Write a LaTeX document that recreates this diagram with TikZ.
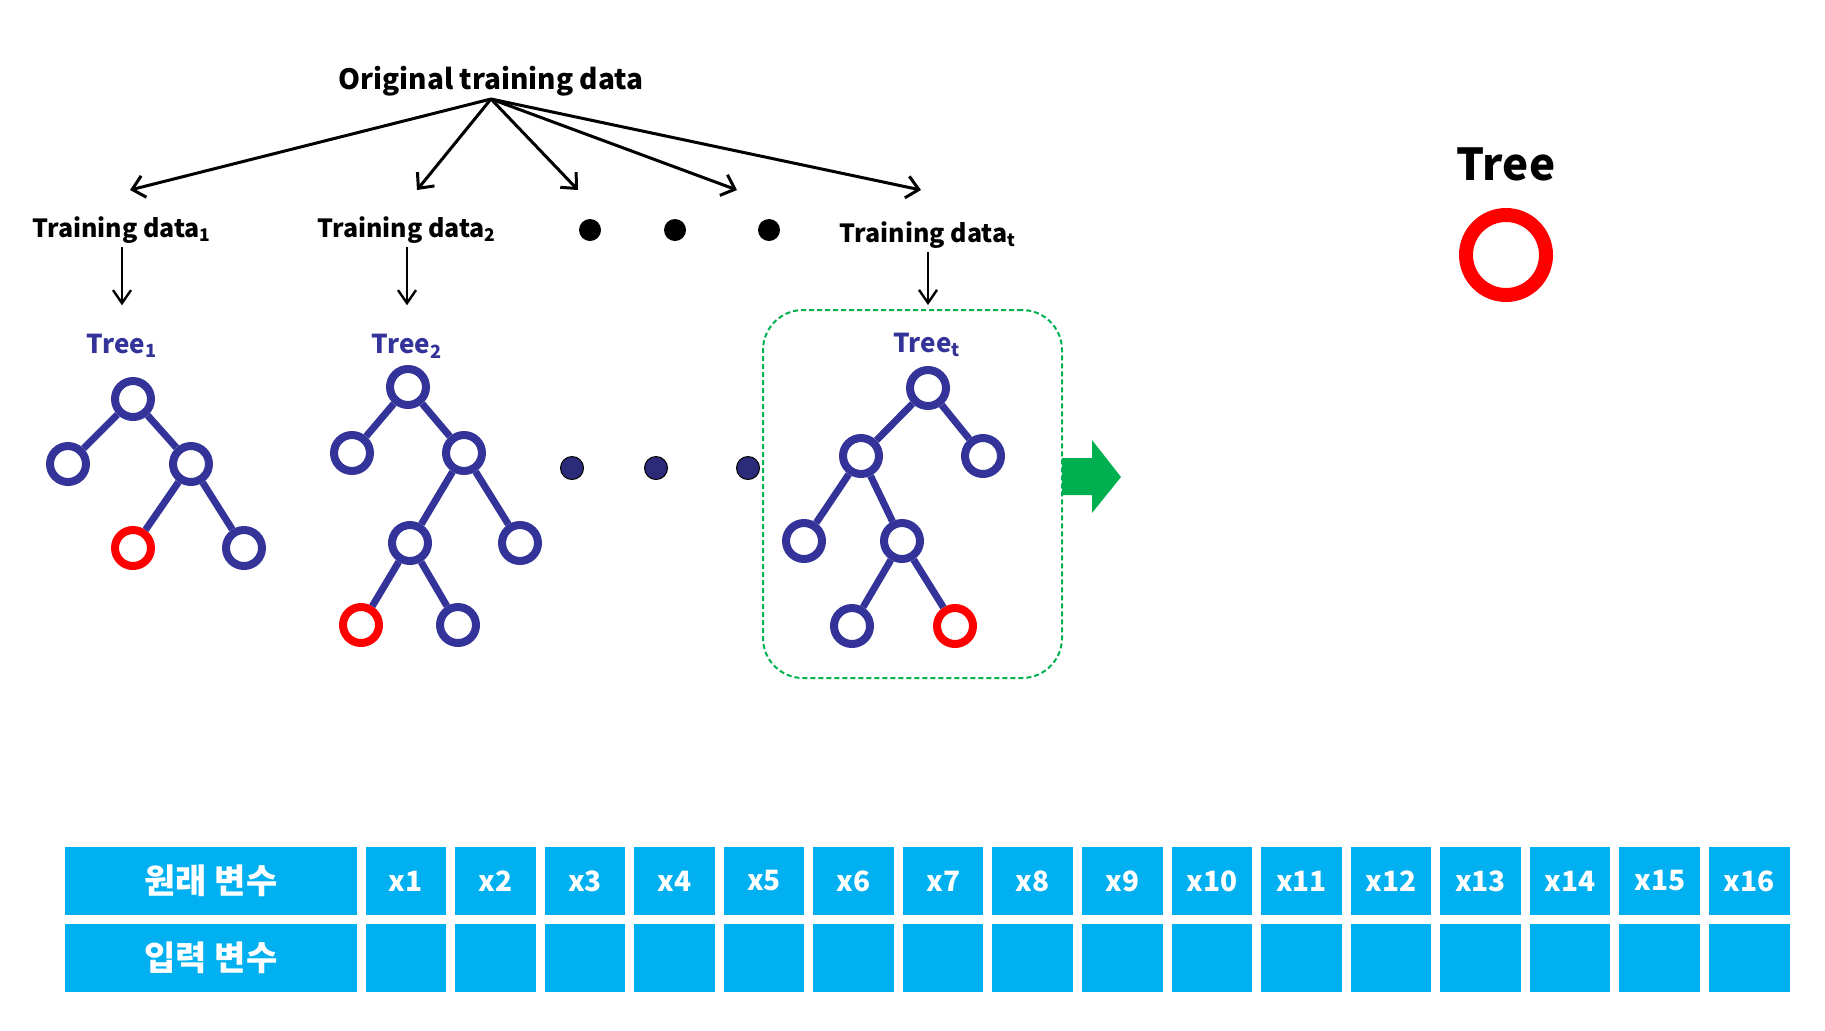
\documentclass[tikz,border=0pt]{standalone}
\usepackage{fontspec}
\setmainfont{Noto Sans CJK KR}
\usepackage{tikz}
\usetikzlibrary{shapes.geometric, arrows, arrows.meta}
\definecolor{navy}{HTML}{333399}
\definecolor{dotnavy}{HTML}{2B2B7A}
\definecolor{leafred}{HTML}{FF0000}
\definecolor{boxgreen}{HTML}{00B050}
\definecolor{varcyan}{HTML}{00B0F0}
\tikzstyle{tnode} = [circle, draw=navy, line width=4pt, minimum size=18pt, inner sep=0pt]
\tikzstyle{rnode} = [tnode, draw=leafred]
\tikzstyle{tedge} = [draw=navy, line width=3.5pt]
\tikzstyle{arrow} = [line width=1.5pt,-{Straight Barb[length=6pt,width=11pt]}]
\tikzstyle{downarrow} = [line width=1.2pt,-{Straight Barb[length=6.5pt,width=9pt]}]
\tikzstyle{blackdot} = [circle, fill=black, minimum size=11pt, inner sep=0pt]
\tikzstyle{navydot} = [circle, fill=dotnavy, draw=black, line width=0.5pt, minimum size=11.5pt, inner sep=0pt]
\tikzstyle{datalabel} = [font=\bfseries\fontsize{12.5}{15}\selectfont, inner sep=2pt, anchor=base]
\tikzstyle{treelabel} = [font=\bfseries\fontsize{13}{16}\selectfont, text=navy, inner sep=2pt, anchor=base]
\tikzstyle{headbox} = [rectangle, fill=varcyan, minimum width=146pt, minimum height=34pt, inner sep=0pt, text=white, font=\bfseries\fontsize{17}{19}\selectfont]
\tikzstyle{varbox} = [rectangle, fill=varcyan, minimum width=40.25pt, minimum height=34pt, inner sep=0pt, text=white, font=\bfseries\fontsize{14}{16}\selectfont]
\begin{document}
\begin{tikzpicture}[x=0.5pt, y=-0.5pt]
\useasboundingbox (0,0) rectangle (1825,1030);

% source and bootstrap samples
\node (orig) [font=\bfseries\fontsize{14}{17}\selectfont, inner sep=1pt, anchor=south] at (491,99) {Original training data};
\coordinate (ta1) at (130,190);
\coordinate (ta2) at (417,190);
\coordinate (ta3) at (578,190);
\coordinate (ta4) at (737,190);
\coordinate (ta5) at (921,190);
\draw [arrow] (orig.south) -- (ta1);
\draw [arrow] (orig.south) -- (ta2);
\draw [arrow] (orig.south) -- (ta3);
\draw [arrow] (orig.south) -- (ta4);
\draw [arrow] (orig.south) -- (ta5);

\node (d1) [datalabel] at (122,237) {Training data\textsubscript{1}};
\node (d2) [datalabel] at (407,237) {Training data\textsubscript{2}};
\node (dt) [datalabel] at (928,242) {Training data\textsubscript{t}};
\node (dot1) [blackdot] at (590,230) {};
\node (dot2) [blackdot] at (675,230) {};
\node (dot3) [blackdot] at (769,230) {};

\node (boxt) [rectangle, rounded corners=20pt, draw=boxgreen, line width=1pt, dash pattern=on 2.5pt off 1.5pt, minimum width=149.5pt, minimum height=184pt] at (912.5,494) {};

\node (t1lab) [treelabel] at (122,353) {Tree\textsubscript{1}};
\node (t2lab) [treelabel] at (407,353) {Tree\textsubscript{2}};
\node (ttlab) [treelabel] at (927,352) {Tree\textsubscript{t}};
\draw [downarrow, shorten >=12pt] (d1.south) -- (t1lab.north);
\draw [downarrow, shorten >=12pt] (d2.south) -- (t2lab.north);
\draw [downarrow, shorten >=2pt] (dt.south) -- (dt.south |- boxt.north);

% tree 1
\node (t1a) [tnode] at (133,399) {};
\node (t1b) [tnode] at (68,464) {};
\node (t1c) [tnode] at (191,464) {};
\node (t1d) [rnode] at (133,548) {};
\node (t1e) [tnode] at (244,548) {};
\draw [tedge] (t1a) -- (t1b);
\draw [tedge] (t1a) -- (t1c);
\draw [tedge] (t1c) -- (t1d);
\draw [tedge] (t1c) -- (t1e);

% tree 2
\node (t2a) [tnode] at (408,387) {};
\node (t2b) [tnode] at (352,453) {};
\node (t2c) [tnode] at (464,453) {};
\node (t2d) [tnode] at (410,543) {};
\node (t2e) [tnode] at (520,543) {};
\node (t2f) [rnode] at (361,625) {};
\node (t2g) [tnode] at (458,625) {};
\draw [tedge] (t2a) -- (t2b);
\draw [tedge] (t2a) -- (t2c);
\draw [tedge] (t2c) -- (t2d);
\draw [tedge] (t2c) -- (t2e);
\draw [tedge] (t2d) -- (t2f);
\draw [tedge] (t2d) -- (t2g);

\node (nd1) [navydot] at (572,468) {};
\node (nd2) [navydot] at (656,468) {};
\node (nd3) [navydot] at (748,468) {};

% tree t
\node (tta) [tnode] at (928,388) {};
\node (ttb) [tnode] at (861,456) {};
\node (ttc) [tnode] at (983,456) {};
\node (ttd) [tnode] at (804,541) {};
\node (tte) [tnode] at (902,541) {};
\node (ttf) [tnode] at (852,626) {};
\node (ttg) [rnode] at (955,626) {};
\draw [tedge] (tta) -- (ttb);
\draw [tedge] (tta) -- (ttc);
\draw [tedge] (ttb) -- (ttd);
\draw [tedge] (ttb) -- (tte);
\draw [tedge] (tte) -- (ttf);
\draw [tedge] (tte) -- (ttg);

\fill [boxgreen] (1062,458) -- (1092,458) -- (1092,440) -- (1121,477) -- (1092,513) -- (1092,495) -- (1062,495) -- cycle;

% legend
\node (leglab) [font=\bfseries\fontsize{22}{26}\selectfont, inner sep=0pt, anchor=base] at (1506,180) {Tree};
\node (legend) [rnode, line width=7pt, minimum size=40pt] at (1506,255) {};

% variables
\node (h1) [headbox] at (211,881) {원래 변수};
\node (h2) [headbox] at (211,958) {입력 변수};
\node (x1) [varbox] at (405.8,881) {x1};
\node (x2) [varbox] at (495.3,881) {x2};
\node (x3) [varbox] at (584.9,881) {x3};
\node (x4) [varbox] at (674.5,881) {x4};
\node (x5) [varbox] at (764.0,881) {x5};
\node (x6) [varbox] at (853.6,881) {x6};
\node (x7) [varbox] at (943.2,881) {x7};
\node (x8) [varbox] at (1032.7,881) {x8};
\node (x9) [varbox] at (1122.3,881) {x9};
\node (x10) [varbox] at (1211.9,881) {x10};
\node (x11) [varbox] at (1301.5,881) {x11};
\node (x12) [varbox] at (1391.0,881) {x12};
\node (x13) [varbox] at (1480.6,881) {x13};
\node (x14) [varbox] at (1570.2,881) {x14};
\node (x15) [varbox] at (1659.7,881) {x15};
\node (x16) [varbox] at (1749.3,881) {x16};
\node (i1) [varbox] at (405.8,958) {};
\node (i2) [varbox] at (495.3,958) {};
\node (i3) [varbox] at (584.9,958) {};
\node (i4) [varbox] at (674.5,958) {};
\node (i5) [varbox] at (764.0,958) {};
\node (i6) [varbox] at (853.6,958) {};
\node (i7) [varbox] at (943.2,958) {};
\node (i8) [varbox] at (1032.7,958) {};
\node (i9) [varbox] at (1122.3,958) {};
\node (i10) [varbox] at (1211.9,958) {};
\node (i11) [varbox] at (1301.5,958) {};
\node (i12) [varbox] at (1391.0,958) {};
\node (i13) [varbox] at (1480.6,958) {};
\node (i14) [varbox] at (1570.2,958) {};
\node (i15) [varbox] at (1659.7,958) {};
\node (i16) [varbox] at (1749.3,958) {};
\end{tikzpicture}
\end{document}
